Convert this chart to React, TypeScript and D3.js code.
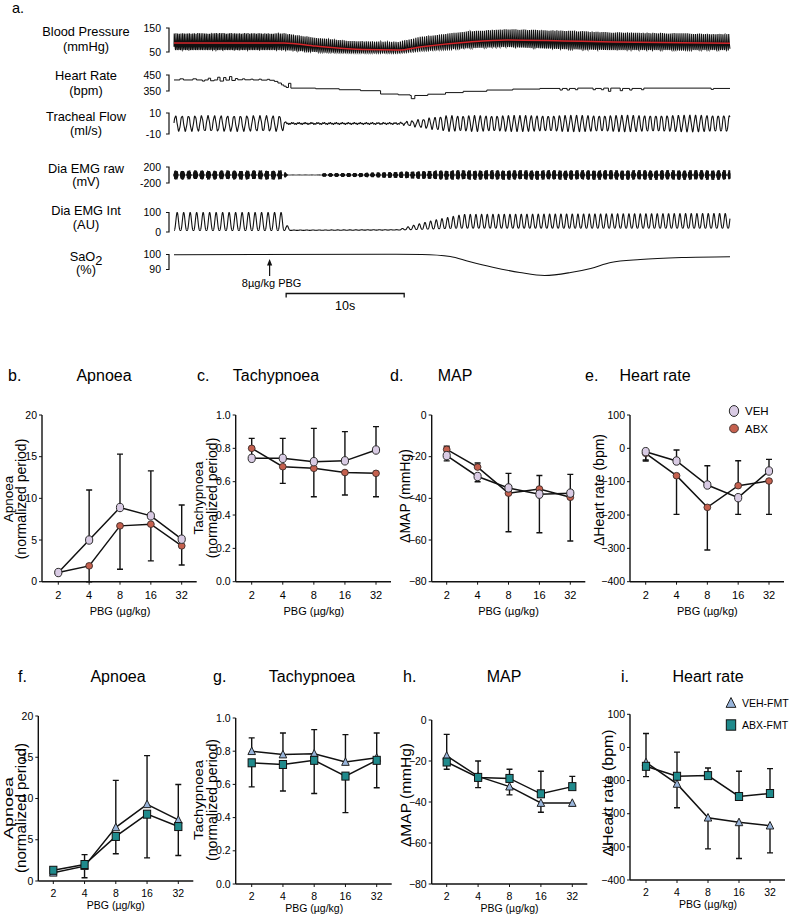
import * as React from 'react';
import * as d3 from 'd3';

const FONT = '"Liberation Sans", Arial, sans-serif';
const NARROW = '"Liberation Sans Narrow", "Liberation Sans", Arial, sans-serif';

// ---------- panel a: recording keyframes [time (s), value]
const traceSeconds = 47.1;
const bpSystolic = [[0, 129], [9.3, 129], [12, 110], [15, 96], [19, 93], [21, 115], [25, 138], [28.2, 146], [33, 140], [37.2, 133], [47.1, 125]];
const bpDiastolic = [[0, 58], [9.3, 58], [12, 50], [15, 46], [19, 45], [21, 55], [25, 66], [28.2, 71], [33, 62], [37.2, 58], [47.1, 58]];
const bpMean = [[0, 88], [9.3, 88], [12, 75], [16, 60], [19, 58], [21, 72], [25, 92], [28.2, 100], [33, 96], [37.2, 92], [47.1, 86]];
const heartRate = [[0, 419], [0.5, 426], [0.8, 419], [1.6, 426], [1.9, 419], [2.4, 412], [2.6, 419], [2.9, 430], [3.1, 414], [3.4, 419], [3.7, 436], [3.9, 412], [4.2, 434], [4.4, 418], [4.7, 440], [4.9, 416], [5.2, 428], [5.4, 420], [5.8, 426], [6.0, 420], [6.5, 424], [6.7, 419], [7.2, 424], [7.4, 418], [7.9, 423], [8.1, 417], [8.5, 410], [8.8, 400], [9.1, 388], [9.3, 380], [9.5, 372], [9.7, 398], [9.9, 368], [12, 364], [14, 358], [15.8, 352], [17.5, 331], [19, 326], [20, 322], [20.1, 302], [20.4, 322], [21.5, 330], [23, 340], [24.5, 348], [26.5, 356], [28.7, 362], [31, 366], [32.7, 356], [32.9, 366], [33.3, 356], [33.5, 366], [34, 358], [34.2, 368], [35.5, 358], [35.7, 366], [36.2, 358], [36.4, 368], [36.8, 348], [37.0, 368], [37.8, 352], [38.0, 366], [38.6, 356], [38.8, 366], [39.6, 358], [39.8, 368], [45.5, 360], [45.7, 366], [47.1, 366]];
const breathPeriod = [[0, 0.55], [9.2, 0.55], [19, 0.48], [47.1, 0.48]];
const flowAmp = [[0, 7], [9.2, 7], [9.5, 0.5], [19, 0.5], [20.5, 3], [23, 7], [47.1, 7.5]];
const emgRawAmp = [[0, 115], [9.3, 115], [9.6, 2], [12.3, 2], [12.6, 40], [16, 55], [19, 80], [23, 120], [47.1, 125]];
const emgIntPeak = [[0, 100], [9.2, 100], [9.5, 40], [9.9, 10], [19, 12], [20, 30], [22, 60], [24.5, 90], [47.1, 95]];
const emgIntBase = [[0, 8], [9.2, 8], [19, 10], [24, 20], [47.1, 20]];
const sao2 = [[0, 99.8], [18, 100.2], [21, 100], [23.4, 98.7], [25, 95.3], [27, 91.5], [29.3, 88], [31.4, 86], [33.6, 88], [35.3, 90.7], [37, 94.7], [39.5, 96.7], [43, 98], [47.1, 98.5]];

// ---------- dose-response panels
const doses = ['2', '4', '8', '16', '32'];

const apnoeaVeh = [1.1, 5.0, 8.9, 7.9, 5.1];
const apnoeaVehUp = [0, 6.0, 6.4, 5.4, 4.1];
const apnoeaAbx = [1.1, 1.9, 6.7, 6.9, 4.3];
const apnoeaAbxDown = [0, 1.9, 5.2, 4.4, 2.3];

const tachyVeh = [0.74, 0.74, 0.72, 0.725, 0.79];
const tachyVehUp = [0.12, 0.12, 0.2, 0.175, 0.14];
const tachyAbx = [0.8, 0.69, 0.68, 0.655, 0.65];
const tachyAbxDown = [0, 0.1, 0.17, 0.135, 0.14];

const mapVeh = [-19.5, -29.5, -35, -38, -37.5];
const mapVehUp = [0, 0, 7, 9, 9];
const mapVehDown = [2.5, 2.5, 0, 0, 0];
const mapAbx = [-16.5, -25, -37.5, -35.5, -39.5];
const mapAbxUp = [1.5, 2, 0, 0, 0];
const mapAbxDown = [0, 0, 18.5, 21, 21];

const hrVeh = [-10, -38, -110, -148, -68];
const hrVehUp = [0, 33, 58, 0, 35];
const hrVehDown = [25, 0, 0, 50, 0];
const hrAbx = [-15, -82, -177, -112, -98];
const hrAbxUp = [0, 0, 0, 75, 0];
const hrAbxDown = [23, 116, 128, 0, 100];

const apnoeaVehFmt = [1.0, 1.8, 6.5, 9.3, 7.4];
const apnoeaVehFmtUp = [0.3, 0, 5.7, 5.9, 4.3];
const apnoeaVehFmtDown = [0, 1.4, 0, 0, 0];
const apnoeaAbxFmt = [1.3, 2.0, 5.4, 8.1, 6.6];
const apnoeaAbxFmtUp = [0, 1.2, 0, 0, 0];
const apnoeaAbxFmtDown = [0.3, 0, 2.1, 5.3, 3.5];

const tachyVehFmt = [0.8, 0.78, 0.785, 0.735, 0.76];
const tachyVehFmtUp = [0.08, 0.13, 0.145, 0.165, 0.15];
const tachyAbxFmt = [0.73, 0.72, 0.745, 0.65, 0.745];
const tachyAbxFmtDown = [0.145, 0.16, 0.2, 0.22, 0.165];

const mapVehFmt = [-17.5, -27.5, -32.5, -40.5, -40.5];
const mapVehFmtUp = [10.5, 7.5, 0, 0, 0];
const mapVehFmtDown = [0, 0, 4, 4.5, 1.5];
const mapAbxFmt = [-20.5, -28, -28.5, -36, -32.5];
const mapAbxFmtUp = [0, 0, 4.5, 11, 5];
const mapAbxFmtDown = [3.5, 5, 0, 0, 0];

const hrVehFmt = [-45, -110, -212, -226, -236];
const hrVehFmtUp = [87, 0, 0, 0, 0];
const hrVehFmtDown = [0, 72, 94, 109, 82];
const hrAbxFmt = [-57, -87, -85, -148, -139];
const hrAbxFmtUp = [0, 73, 23, 76, 75];
const hrAbxFmtDown = [31, 0, 0, 0, 0];

const zeros = [0, 0, 0, 0, 0];

type Mark = 'veh' | 'abx' | 'tri' | 'sq';
interface Series { mean: number[]; up: number[]; down: number[]; mark: Mark; }
interface PanelSpec {
  letter: string; title: string; letterX: number; titleX: number; titleY: number;
  axisX: number; yTop: number; yBottom: number; x0: number; x1: number;
  domain: [number, number]; ticks: number[]; fmt: (n: number) => string;
  ylabel: string[]; ylabelX: number[]; ylabelY: number; ylabelLen?: number[];
  series: Series[]; legend?: { mark: Mark; label: string; y: number }[];
}

const fmtInt = d3.format('d');
const fmt1 = d3.format('.1f');

const row1Title = 381;
const row2Title = 682;

const panels: PanelSpec[] = [
  {
    letter: 'b.', title: 'Apnoea', letterX: 8, titleX: 104, titleY: row1Title,
    axisX: 42, yTop: 415, yBottom: 581.7, x0: 58.3, x1: 181.7,
    domain: [0, 20], ticks: [0, 5, 10, 15, 20], fmt: fmtInt,
    ylabel: ['Apnoea', '(normalized period)'], ylabelX: [12.5, 26], ylabelY: 499,
    series: [
      { mean: apnoeaAbx, up: zeros, down: apnoeaAbxDown, mark: 'abx' },
      { mean: apnoeaVeh, up: apnoeaVehUp, down: zeros, mark: 'veh' },
    ],
  },
  {
    letter: 'c.', title: 'Tachypnoea', letterX: 197, titleX: 276, titleY: row1Title,
    axisX: 235.7, yTop: 415, yBottom: 581.7, x0: 251.7, x1: 376,
    domain: [0, 1], ticks: [0, 0.2, 0.4, 0.6, 0.8, 1], fmt: fmt1,
    ylabel: ['Tachypnoea', '(normalized period)'], ylabelX: [202.5, 216.5], ylabelY: 498,
    series: [
      { mean: tachyAbx, up: zeros, down: tachyAbxDown, mark: 'abx' },
      { mean: tachyVeh, up: tachyVehUp, down: zeros, mark: 'veh' },
    ],
  },
  {
    letter: 'd.', title: 'MAP', letterX: 390, titleX: 455, titleY: row1Title,
    axisX: 431.7, yTop: 415, yBottom: 581.7, x0: 446.7, x1: 570.3,
    domain: [-80, 0], ticks: [-80, -60, -40, -20, 0], fmt: fmtInt,
    ylabel: ['ΔMAP (mmHg)'], ylabelX: [410], ylabelY: 496,
    series: [
      { mean: mapAbx, up: mapAbxUp, down: mapAbxDown, mark: 'abx' },
      { mean: mapVeh, up: mapVehUp, down: mapVehDown, mark: 'veh' },
    ],
  },
  {
    letter: 'e.', title: 'Heart rate', letterX: 585, titleX: 655, titleY: row1Title,
    axisX: 630, yTop: 415, yBottom: 581.7, x0: 645.7, x1: 769,
    domain: [-400, 100], ticks: [-400, -300, -200, -100, 0, 100], fmt: fmtInt,
    ylabel: ['ΔHeart rate (bpm)'], ylabelX: [604], ylabelY: 490,
    series: [
      { mean: hrAbx, up: hrAbxUp, down: hrAbxDown, mark: 'abx' },
      { mean: hrVeh, up: hrVehUp, down: hrVehDown, mark: 'veh' },
    ],
    legend: [{ mark: 'veh', label: 'VEH', y: 411 }, { mark: 'abx', label: 'ABX', y: 428.5 }],
  },
  {
    letter: 'f.', title: 'Apnoea', letterX: 18, titleX: 118, titleY: row2Title,
    axisX: 38.3, yTop: 716, yBottom: 881, x0: 53.3, x1: 178.3,
    domain: [0, 20], ticks: [0, 5, 10, 15, 20], fmt: fmtInt,
    ylabel: ['Apnoea', '(normalized period)'], ylabelX: [12.5, 25.5], ylabelY: 808, ylabelLen: [62, 130],
    series: [
      { mean: apnoeaVehFmt, up: apnoeaVehFmtUp, down: apnoeaVehFmtDown, mark: 'tri' },
      { mean: apnoeaAbxFmt, up: apnoeaAbxFmtUp, down: apnoeaAbxFmtDown, mark: 'sq' },
    ],
  },
  {
    letter: 'g.', title: 'Tachypnoea', letterX: 213, titleX: 312, titleY: row2Title,
    axisX: 235.7, yTop: 718, yBottom: 884, x0: 251.7, x1: 376.7,
    domain: [0, 1], ticks: [0, 0.2, 0.4, 0.6, 0.8, 1], fmt: fmt1,
    ylabel: ['Tachypnoea', '(normalized period)'], ylabelX: [202.5, 217], ylabelY: 800, ylabelLen: [80, 122],
    series: [
      { mean: tachyVehFmt, up: tachyVehFmtUp, down: zeros, mark: 'tri' },
      { mean: tachyAbxFmt, up: zeros, down: tachyAbxFmtDown, mark: 'sq' },
    ],
  },
  {
    letter: 'h.', title: 'MAP', letterX: 403, titleX: 504, titleY: row2Title,
    axisX: 431.7, yTop: 720, yBottom: 884, x0: 446.7, x1: 572.3,
    domain: [-80, 0], ticks: [-80, -60, -40, -20, 0], fmt: fmtInt,
    ylabel: ['ΔMAP (mmHg)'], ylabelX: [411], ylabelY: 795, ylabelLen: [104],
    series: [
      { mean: mapVehFmt, up: mapVehFmtUp, down: mapVehFmtDown, mark: 'tri' },
      { mean: mapAbxFmt, up: mapAbxFmtUp, down: mapAbxFmtDown, mark: 'sq' },
    ],
  },
  {
    letter: 'i.', title: 'Heart rate', letterX: 621, titleX: 708, titleY: row2Title,
    axisX: 630, yTop: 714.3, yBottom: 880, x0: 646, x1: 770,
    domain: [-400, 100], ticks: [-400, -300, -200, -100, 0, 100], fmt: fmtInt,
    ylabel: ['ΔHeart rate (bpm)'], ylabelX: [612.5], ylabelY: 793, ylabelLen: [127],
    series: [
      { mean: hrVehFmt, up: hrVehFmtUp, down: hrVehFmtDown, mark: 'tri' },
      { mean: hrAbxFmt, up: hrAbxFmtUp, down: hrAbxFmtDown, mark: 'sq' },
    ],
    legend: [{ mark: 'tri', label: 'VEH-FMT', y: 703 }, { mark: 'sq', label: 'ABX-FMT', y: 725 }],
  },
];

function Marker({ mark, x, y, s = 1 }: { mark: Mark; x: number; y: number; s?: number }) {
  if (mark === 'veh') return <ellipse cx={x} cy={y} rx={3.6 * s} ry={4.2 * s} fill="#d9cbe4" stroke="#2b2b2b" strokeWidth={1} />;
  if (mark === 'abx') return <ellipse cx={x} cy={y} rx={3.4 * s} ry={3.3 * s} fill="#c5604e" stroke="#3b2a28" strokeWidth={0.9} />;
  if (mark === 'tri') {
    const h = 4.2 * s;
    return <path d={`M${x},${y - h}L${x + h * 0.9},${y + h * 0.8}L${x - h * 0.9},${y + h * 0.8}Z`} fill="#98b4da" stroke="#222" strokeWidth={1} />;
  }
  return <rect x={x - 3.6 * s} y={y - 4 * s} width={7.2 * s} height={8 * s} fill="#1f8a8c" stroke="#111" strokeWidth={1} />;
}

function DosePanel({ p }: { p: PanelSpec }) {
  const x = d3.scalePoint<string>().domain(doses).range([p.x0, p.x1]);
  const y = d3.scaleLinear().domain(p.domain).range([p.yBottom, p.yTop]);
  const line = d3.line<number>().x((_, i) => x(doses[i])!).y(d => y(d));
  const cap = 3;
  const row2 = p.yBottom > 700;
  return (
    <g>
      <text x={p.letterX} y={p.titleY} fontSize={16} fontFamily={FONT}>{p.letter}</text>
      <text x={p.titleX} y={p.titleY} fontSize={16} fontFamily={FONT} textAnchor="middle">{p.title}</text>
      {p.ylabel.map((t, i) => (
        <text key={i} transform={`translate(${p.ylabelX[i]},${p.ylabelY}) rotate(-90)`} fontSize={i === 0 && p.ylabel.length > 1 ? 13.5 : 14} fontFamily={FONT}
          textAnchor="middle" textLength={p.ylabelLen ? p.ylabelLen[i] : undefined}
          lengthAdjust={p.ylabelLen ? 'spacingAndGlyphs' : undefined}>{t}</text>
      ))}
      <line x1={p.axisX} x2={p.axisX} y1={p.yTop} y2={p.yBottom} stroke="#111" strokeWidth={1.4} />
      <line x1={p.axisX} x2={p.x1 + 15} y1={p.yBottom} y2={p.yBottom} stroke="#111" strokeWidth={1.4} />
      {p.ticks.map(t => (
        <g key={t}>
          <line x1={p.axisX - 3} x2={p.axisX} y1={y(t)} y2={y(t)} stroke="#111" strokeWidth={1} />
          <text x={p.axisX - 5} y={y(t)} dy="0.35em" fontSize={10.5} fontFamily={NARROW} textAnchor="end">{p.fmt(t)}</text>
        </g>
      ))}
      {doses.map(d => (
        <g key={d}>
          <line x1={x(d)} x2={x(d)} y1={p.yBottom} y2={p.yBottom + 3} stroke="#111" strokeWidth={1} />
          <text x={x(d)} y={p.yBottom + (row2 ? 16 : 17)} fontSize={row2 ? 10.5 : 11} fontFamily={NARROW} textAnchor="middle">{d}</text>
        </g>
      ))}
      <text x={x('8')} y={p.yBottom + (row2 ? 28 : 33)} fontSize={row2 ? 10.5 : 11} fontFamily={NARROW} textAnchor="middle">PBG (µg/kg)</text>
      {p.series.map((s, si) => (
        <g key={'e' + si}>
          {s.mean.map((m, i) => {
            const cx = x(doses[i])!;
            const els = [];
            if (s.up[i] > 0) {
              const ye = y(m + s.up[i]);
              els.push(<path key="u" d={`M${cx},${y(m)}V${ye}M${cx - cap},${ye}H${cx + cap}`} stroke="#111" strokeWidth={1.4} fill="none" />);
            }
            if (s.down[i] > 0) {
              const ye = y(m - s.down[i]);
              els.push(<path key="d" d={`M${cx},${y(m)}V${ye}M${cx - cap},${ye}H${cx + cap}`} stroke="#111" strokeWidth={1.4} fill="none" />);
            }
            return <g key={i}>{els}</g>;
          })}
        </g>
      ))}
      {p.series.map((s, si) => (
        <path key={'l' + si} d={line(s.mean)!} stroke="#111" strokeWidth={1.5} fill="none" />
      ))}
      {p.series.map((s, si) => (
        <g key={'m' + si}>
          {s.mean.map((m, i) => <Marker key={i} mark={s.mark} x={x(doses[i])!} y={y(m)} />)}
        </g>
      ))}
      {p.legend && p.legend.map(l => (
        <g key={l.label}>
          <Marker mark={l.mark} x={p.axisX + (row2 ? 101 : 104)} y={l.y} s={1.3} />
          <text x={p.axisX + (row2 ? 112 : 115)} y={l.y} dy="0.35em" fontSize={row2 ? 10.5 : 11.5} fontFamily={FONT}>{l.label}</text>
        </g>
      ))}
    </g>
  );
}

// piecewise-linear lookup through keyframes
const keyed = (keys: number[][]) =>
  d3.scaleLinear().domain(keys.map(k => k[0])).range(keys.map(k => k[1])).clamp(true);

const tScale = d3.scaleLinear().domain([0, traceSeconds]).range([174, 730]);

interface Channel { label: string[]; labelY: number[]; hi: string; lo: string; hiY: number; loY: number; domain: [number, number]; }
const channels: Channel[] = [
  { label: ['Blood Pressure', '(mmHg)'], labelY: [36, 50.5], hi: '150', lo: '50', hiY: 28, loY: 52, domain: [50, 150] },
  { label: ['Heart Rate', '(bpm)'], labelY: [80, 94.5], hi: '450', lo: '350', hiY: 75, loY: 91, domain: [350, 450] },
  { label: ['Tracheal Flow', '(ml/s)'], labelY: [120.5, 134.5], hi: '10', lo: '-10', hiY: 113, loY: 134, domain: [-10, 10] },
  { label: ['Dia EMG raw', '(mV)'], labelY: [172.5, 186], hi: '200', lo: '-200', hiY: 167, loY: 183, domain: [-200, 200] },
  { label: ['Dia EMG Int', '(AU)'], labelY: [215, 229], hi: '100', lo: '0', hiY: 212.5, loY: 232, domain: [0, 100] },
  { label: ['SaO2', '(%)'], labelY: [260.5, 274], hi: '100', lo: '90', hiY: 254.5, loY: 269.5, domain: [90, 100] },
];

function buildTraces() {
  const ys = channels.map(c => d3.scaleLinear().domain(c.domain).range([c.loY, c.hiY]));
  const hr = keyed(heartRate), per = keyed(breathPeriod);
  const sys = keyed(bpSystolic), dia = keyed(bpDiastolic);
  const fa = keyed(flowAmp), ra = keyed(emgRawAmp), ip = keyed(emgIntPeak), ib = keyed(emgIntBase);
  const bp: [number, number][] = [], flow: [number, number][] = [], raw: [number, number][] = [], integ: [number, number][] = [];
  const dt = 0.005;
  let beat = 0, breath = 0;
  for (let t = 0; t <= traceSeconds; t += dt) {
    beat += dt * hr(t) / 60;
    breath += dt / per(t);
    const fb = beat % 1, fr = breath % 1;
    const px = tScale(t);
    const pulse = fb < 0.18 ? fb / 0.18 : Math.pow(1 - (fb - 0.18) / 0.82, 1.6);
    bp.push([px, ys[0](dia(t) + (sys(t) - dia(t)) * pulse)]);
    const f = fa(t) * Math.sin(2 * Math.PI * fr) + 0.5 * Math.sin(2 * Math.PI * fb);
    flow.push([px, ys[2](f)]);
    const env = fr < 0.62 ? Math.min(1, 2 * Math.sin(Math.PI * fr / 0.62)) : 0;
    const carrier = Math.sin(2 * Math.PI * 83 * t) * (0.6 + 0.4 * Math.abs(Math.sin(2 * Math.PI * 7.3 * t)));
    raw.push([px, ys[3](ra(t) * env * carrier)]);
    const shape = Math.pow(0.5 - 0.5 * Math.cos(2 * Math.PI * fr), 1.4);
    integ.push([px, ys[4](ib(t) + (ip(t) - ib(t)) * shape)]);
  }
  const ln = d3.line();
  const hrLine = d3.line<number[]>().x(d => tScale(d[0])).y(d => ys[1](d[1])).curve(d3.curveStepAfter);
  const meanLine = d3.line<number[]>().x(d => tScale(d[0])).y(d => ys[0](d[1])).curve(d3.curveMonotoneX);
  const satLine = d3.line<number[]>().x(d => tScale(d[0])).y(d => ys[5](d[1])).curve(d3.curveMonotoneX);
  return {
    bp: ln(bp)!, flow: ln(flow)!, raw: ln(raw)!, integ: ln(integ)!,
    hr: hrLine(heartRate)!, mean: meanLine(bpMean)!, sat: satLine(sao2)!,
  };
}

function Recording() {
  const tr = React.useMemo(buildTraces, []);
  const arrowX = tScale(8.1);
  const barX0 = tScale(9.5), barX1 = tScale(19.5);
  return (
    <g>
      <text x={12} y={13} fontSize={14.5} fontFamily={FONT}>a.</text>
      {channels.map((c, i) => (
        <g key={i}>
          {c.label.map((l, j) => (
            <text key={j} x={86} y={c.labelY[j]} fontSize={12.8} fontFamily={FONT} textAnchor="middle">
              {l === 'SaO2' ? <>SaO<tspan dy={4}>2</tspan></> : l}
            </text>
          ))}
          <text x={161} y={c.hiY} dy="0.35em" fontSize={10.5} fontFamily={NARROW} textAnchor="end">{c.hi}</text>
          <text x={161} y={c.loY} dy="0.35em" fontSize={10.5} fontFamily={NARROW} textAnchor="end">{c.lo}</text>
          <path d={`M166,${c.hiY}H169V${c.loY}H166`} stroke="#111" strokeWidth={1.2} fill="none" />
        </g>
      ))}
      <path d={tr.bp} stroke="#111" strokeWidth={1.1} fill="none" />
      <path d={tr.mean} stroke="#d3262a" strokeWidth={1.5} fill="none" />
      <path d={tr.hr} stroke="#111" strokeWidth={1} fill="none" />
      <path d={tr.flow} stroke="#111" strokeWidth={1.1} fill="none" />
      <path d={tr.raw} stroke="#111" strokeWidth={0.8} fill="none" />
      <path d={tr.integ} stroke="#111" strokeWidth={1.1} fill="none" />
      <path d={tr.sat} stroke="#111" strokeWidth={1.1} fill="none" />
      <line x1={arrowX} x2={arrowX} y1={276} y2={263} stroke="#111" strokeWidth={1.2} />
      <path d={`M${arrowX},259L${arrowX - 2.6},265.5L${arrowX + 2.6},265.5Z`} fill="#111" />
      <text x={arrowX + 2} y={287} fontSize={11} fontFamily={FONT} textAnchor="middle">8µg/kg PBG</text>
      <path d={`M${barX0},297.5V293.5H${barX1}V297.5`} stroke="#111" strokeWidth={1.3} fill="none" />
      <text x={(barX0 + barX1) / 2} y={310} fontSize={12.5} fontFamily={FONT} textAnchor="middle">10s</text>
    </g>
  );
}

export default function App() {
  return (
    <svg width={791} height={915} style={{ position: 'absolute', left: 0, top: 0, background: '#fff' }}>
      <rect width={791} height={915} fill="#fff" />
      <Recording />
      {panels.map(p => <DosePanel key={p.letter} p={p} />)}
    </svg>
  );
}
